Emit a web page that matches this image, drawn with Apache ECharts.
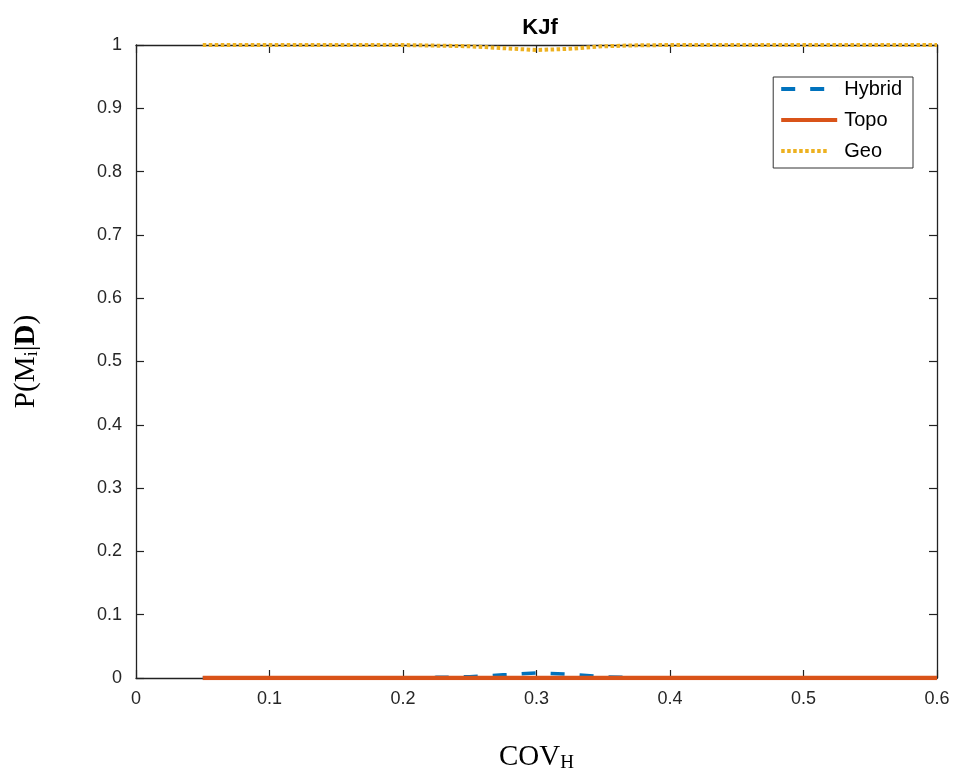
<!DOCTYPE html>
<html>
<head>
<meta charset="utf-8">
<script src="https://cdn.jsdelivr.net/npm/echarts@6/dist/echarts.min.js"></script>
<style>html,body{margin:0;padding:0;background:#fff}#c{width:957px;height:780px}</style>
</head>
<body>
<div id="c"></div>
<script>
const xValues = [0.05,0.075,0.1,0.125,0.15,0.175,0.2,0.225,0.25,0.275,0.3,0.325,0.35,0.375,0.4,0.425,0.45,0.475,0.5,0.525,0.55,0.575,0.6];
const hybrid  = [0,0,0,0,0,0,0,0.001,0.002,0.005,0.008,0.006,0.002,0.0005,0,0,0,0,0,0,0,0,0];
const topo    = [0,0,0,0,0,0,0,0,0,0,0,0,0,0,0,0,0,0,0,0,0,0,0];
const geo     = [1,1,1,1,1,1,1,0.999,0.998,0.995,0.992,0.994,0.998,0.9995,1,1,1,1,1,1,1,1,1];
const seriesNames = ['Hybrid','Topo','Geo'];

const pair = (ys) => xValues.map((x,i)=>[x,ys[i]]);
const fmt = v => (v===0||v===1) ? String(v) : String(+v.toFixed(1));
const font = 'Liberation Sans, Arial, Helvetica';
const serif = 'Liberation Serif, Times New Roman, serif';
const tickStyle = {show:true,inside:true,length:8,lineStyle:{color:'#222',width:1.2}};
const lineAx = {show:true,onZero:false,lineStyle:{color:'#222',width:1.3}};
const mirrorX = {type:'value',min:0,max:0.6,interval:0.1,position:'top',axisLine:lineAx,axisTick:tickStyle,axisLabel:{show:false},splitLine:{show:false}};
const mirrorY = {type:'value',min:0,max:1,interval:0.1,position:'right',axisLine:lineAx,axisTick:tickStyle,axisLabel:{show:false},splitLine:{show:false}};

const icons = {
  Hybrid:'path://M0,0h14v4h-14z M29,0h14v4h-14z M58,0h0.01v4h-0.01z',
  Topo:'path://M0,0h56v4h-56z M58,0h0.01v4h-0.01z',
  Geo:'path://M0,0h3.5v4h-3.5z M6,0h3.5v4h-3.5z M12,0h3.5v4h-3.5z M18,0h3.5v4h-3.5z M24,0h3.5v4h-3.5z M30,0h3.5v4h-3.5z M36,0h3.5v4h-3.5z M42,0h3.5v4h-3.5z M58,0h0.01v4h-0.01z'
};

const chart = echarts.init(document.getElementById('c'));
chart.setOption({
  animation:false,
  title:{text:'KJf',left:535,top:12,textAlign:'center',textStyle:{fontFamily:font,fontWeight:'bold',fontSize:22,color:'#000'}},
  grid:{left:136,right:20,top:45,bottom:102},
  legend:{
    right:44,top:77,orient:'vertical',itemWidth:58,itemHeight:4,itemGap:9,
    backgroundColor:'#fff',borderColor:'#333',borderWidth:1,padding:[1,11,6,8],
    textStyle:{fontFamily:font,fontSize:20,color:'#000',lineHeight:22},
    data:seriesNames.map(n=>({name:n,icon:icons[n]}))
  },
  xAxis:[{
    type:'value',min:0,max:0.6,interval:0.1,
    axisLine:lineAx,axisTick:tickStyle,splitLine:{show:false},
    axisLabel:{formatter:fmt,fontFamily:font,fontSize:18,color:'#262626',margin:12},
    name:'{n|COV}{s|H}',nameLocation:'middle',nameGap:64,
    nameTextStyle:{rich:{n:{fontFamily:serif,fontSize:29,color:'#000'},s:{fontFamily:serif,fontSize:19,color:'#000',padding:[12,0,0,0]}}}
  }, mirrorX],
  yAxis:[{
    type:'value',min:0,max:1,interval:0.1,
    axisLine:lineAx,axisTick:tickStyle,splitLine:{show:false},
    axisLabel:{formatter:fmt,fontFamily:font,fontSize:18,color:'#262626',margin:14},
    name:'{n|P(M}{s|i}{n||}{b|D}{n|)}',nameLocation:'middle',nameGap:94,nameRotate:90,
    nameTextStyle:{rich:{
      n:{fontFamily:serif,fontSize:29,color:'#000'},
      s:{fontFamily:serif,fontSize:19,color:'#000',padding:[12,0,0,0]},
      b:{fontFamily:serif,fontSize:29,fontWeight:'bold',color:'#000'}
    }}
  }, mirrorY],
  series:[
    {name:'Hybrid',type:'line',data:pair(hybrid),symbol:'none',color:'#0072BD',z:2,
     lineStyle:{color:'#0072BD',width:3.5,type:[14,15]}},
    {name:'Topo',type:'line',data:pair(topo),symbol:'none',color:'#D95319',z:3,
     lineStyle:{color:'#D95319',width:4.5}},
    {name:'Geo',type:'line',data:pair(geo),symbol:'none',color:'#EDB120',z:4,
     lineStyle:{color:'#EDB120',width:4,type:[3.5,2.5]}}
  ]
});
</script>
</body>
</html>
